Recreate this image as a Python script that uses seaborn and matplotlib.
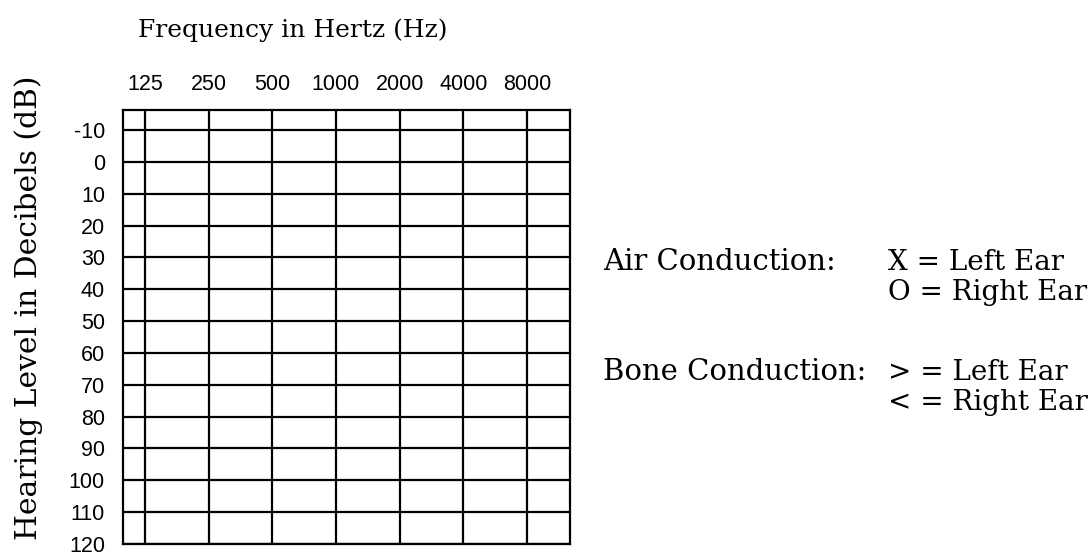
import matplotlib
matplotlib.use('Agg')
import matplotlib.pyplot as plt
from matplotlib import font_manager as fm
import seaborn as sns

# audiogram axes
frequencies = [125, 250, 500, 1000, 2000, 4000, 8000]
freq_labels = ['125', '250', '500', '1000', '2000', '4000', '8000']
levels = [-10, 0, 10, 20, 30, 40, 50, 60, 70, 80, 90, 100, 110, 120]
level_labels = [str(v) for v in levels]

# legend text (left column, right column)
legend_left = ['Air Conduction:', '', 'Bone Conduction:', '']
legend_right = ['X = Left Ear', 'O = Right Ear', '> = Left Ear', '< = Right Ear']

sns.set_theme(style='white')
plt.rcParams['font.family'] = ['DejaVu Serif']
plt.rcParams['axes.unicode_minus'] = False

# narrow font for the tick numbers, if there is one
installed = {f.name for f in fm.fontManager.ttflist}
if 'Liberation Sans Narrow' in installed:
    tick_family, tick_size = 'Liberation Sans Narrow', 18
else:
    tick_family, tick_size = 'Liberation Sans', 15.5

W, H = 1088, 557
fig = plt.figure(figsize=(W / 100, H / 100), dpi=100)
fig.patch.set_facecolor('white')
ax = fig.add_axes([123 / W, 1 - 544 / H, 447 / W, 434 / H])

ax.set_xscale('log', base=2)
ax.set_xlim(98.5, 12780)
ax.set_ylim(120, -16.3)
ax.set_xticks(frequencies, freq_labels)
ax.set_yticks(levels, level_labels)
ax.minorticks_off()
ax.xaxis.tick_top()

ax.grid(True, which='major', color='black', linewidth=1.6)
ax.tick_params(axis='both', length=0, labelsize=tick_size, labelcolor='black')
ax.tick_params(axis='x', pad=11)
ax.tick_params(axis='y', pad=13)
for lab in ax.get_xticklabels() + ax.get_yticklabels():
    lab.set_fontfamily([tick_family, 'DejaVu Sans'])
for sp in ax.spines.values():
    sp.set_color('black')
    sp.set_linewidth(1.6)

fig.text(293 / W, 1 - 37 / H, 'Frequency in Hertz (Hz)', ha='center',
         va='baseline', fontsize=18, color='black')
fig.text(29 / W, 1 - 308 / H, 'Hearing Level in Decibels (dB)', rotation=90,
         ha='center', va='center', fontsize=21.4, color='black')

baselines = [270, 300, 380, 410]
for left, right, yb in zip(legend_left, legend_right, baselines):
    if left:
        fig.text(603 / W, 1 - yb / H, left, ha='left', va='baseline',
                 fontsize=21, color='black')
    fig.text(888 / W, 1 - yb / H, right, ha='left', va='baseline',
             fontsize=20, color='black')

fig.savefig('out.png', dpi=100, facecolor='white')
